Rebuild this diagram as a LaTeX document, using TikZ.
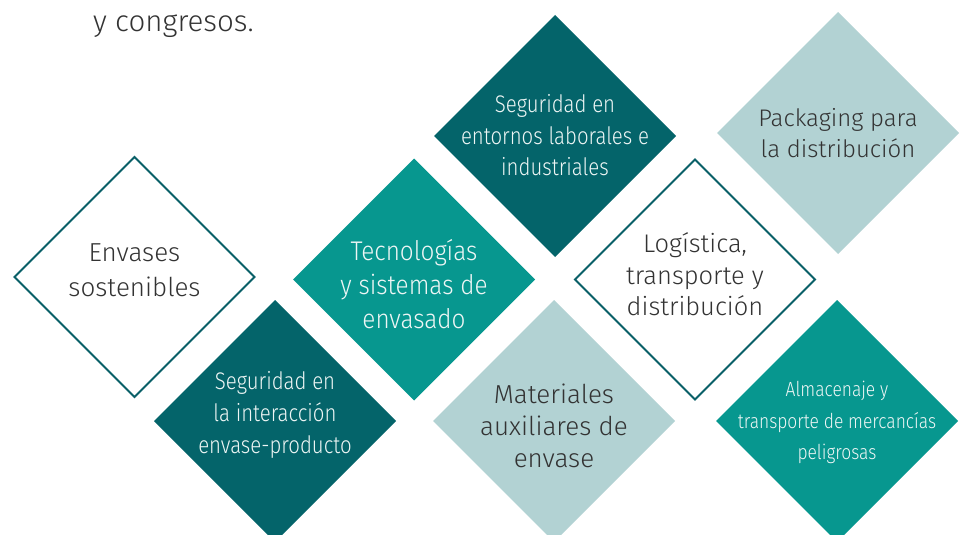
\documentclass[tikz,border=0pt]{standalone}
\usepackage{fontspec}
\setmainfont{Fira Sans}[UprightFont=* Light]
\newfontfamily\condfont{Fira Sans}[UprightFont=* Light, FakeStretch=0.85]
\newfontfamily\semifont{Fira Sans}[UprightFont=* Light, FakeStretch=0.9]
\usetikzlibrary{shapes.geometric}
\definecolor{darkteal}{HTML}{04646A}
\definecolor{midteal}{HTML}{07978F}
\definecolor{lightteal}{HTML}{B2D2D3}
\definecolor{strokecol}{HTML}{0A6068}
\definecolor{txtgrey}{HTML}{333333}
\definecolor{txtwhite}{HTML}{EEF6F5}
\begin{document}
\begin{tikzpicture}[x=1pt,y=-1pt,
  dia/.style={diamond, shape aspect=1, minimum width=242pt, minimum height=242pt, inner sep=0pt, outer sep=0pt},
  diaout/.style={dia, draw=strokecol, line width=1.8pt, fill=white, minimum width=240pt, minimum height=240pt},
  diadark/.style={dia, fill=darkteal},
  diamid/.style={dia, fill=midteal},
  dialight/.style={dia, fill=lightteal},
  tdark/.style={text=txtgrey, align=center, inner sep=0pt},
  tlight/.style={text=txtwhite, align=center, inner sep=0pt}]
\useasboundingbox (0,0) rectangle (967,535);
\clip (0,0) rectangle (967,535);
\node[anchor=base west, text=txtgrey, inner sep=0pt, font={\fontsize{29.5}{34}\selectfont}] (head) at (93,32) {y congresos.};
% diamonds
\node[diaout] (d1) at (134.5,277) {};
\node[diamid] (d2) at (414,279.5) {};
\node[diadark] (d3) at (555,136) {};
\node[dialight] (d4) at (838,133) {};
\node[diaout] (d5) at (695,279.5) {};
\node[diadark] (d6) at (275,421) {};
\node[dialight] (d7) at (554,421) {};
\node[diamid] (d8) at (837,421) {};
% texts
\node[tdark, font={\fontsize{26}{35}\selectfont}] (t1) at (134.5,270.5) {Envases\\sostenibles};
\node[tlight, font={\semifont\fontsize{27}{34}\selectfont}] (t2) at (414,284) {Tecnologías\\y sistemas de\\envasado};
\node[tlight, font={\condfont\fontsize{24}{31.5}\selectfont}] (t3) at (555,135.5) {Seguridad en\\entornos laborales e\\industriales};
\node[tdark, font={\fontsize{24}{31}\selectfont}] (t4) at (838,133.5) {Packaging para\\la distribución};
\node[tdark, font={\fontsize{25.5}{31.5}\selectfont}] (t5) at (695,274.5) {Logística,\\transporte y\\distribución};
\node[tlight, font={\condfont\fontsize{24}{32}\selectfont}] (t6) at (275,414.5) {Seguridad en\\la interacción\\envase-producto};
\node[tdark, font={\fontsize{26}{32}\selectfont}] (t7) at (554,426) {Materiales\\auxiliares de\\envase};
\node[tlight, font={\condfont\fontsize{20.5}{31.5}\selectfont}] (t8) at (837,422.5) {Almacenaje y\\transporte de mercancías\\peligrosas};
\end{tikzpicture}
\end{document}
